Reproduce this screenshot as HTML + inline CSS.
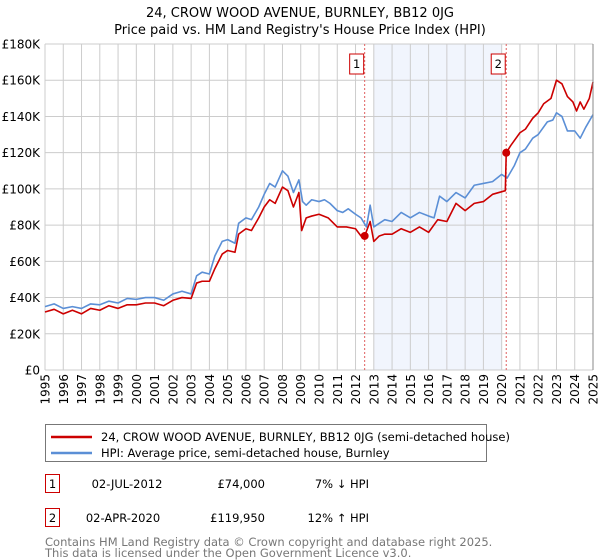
<!DOCTYPE html>
<html><head><meta charset="utf-8"><style>
body{margin:0;background:#fff;font-family:"Liberation Sans","DejaVu Sans",sans-serif;}
svg{display:block}
</style></head><body>
<svg id="c" width="600" height="560" xmlns="http://www.w3.org/2000/svg" font-family="DejaVu Sans, Liberation Sans, sans-serif">
<text x="300" y="17" text-anchor="middle" font-size="13">24, CROW WOOD AVENUE, BURNLEY, BB12 0JG</text>
<text x="300" y="34" text-anchor="middle" font-size="13">Price paid vs. HM Land Registry's House Price Index (HPI)</text>
<g id="plot"></g>
<g>
<rect x="45.5" y="424.5" width="441" height="37" fill="#fff" stroke="#777"/>
<line x1="51" y1="437" x2="92" y2="437" stroke="#cc0000" stroke-width="2.5"/>
<text x="101" y="441" font-size="11.5">24, CROW WOOD AVENUE, BURNLEY, BB12 0JG (semi-detached house)</text>
<line x1="51" y1="453" x2="92" y2="453" stroke="#5b8fd6" stroke-width="2.5"/>
<text x="101" y="457" font-size="11.5">HPI: Average price, semi-detached house, Burnley</text>
</g>
<g font-size="11.5">
<rect x="45.5" y="474.5" width="14" height="18" fill="#fff" stroke="#cc0000"/>
<text x="52.5" y="488" text-anchor="middle">1</text>
<text x="127" y="488" text-anchor="middle">02-JUL-2012</text>
<text x="265" y="488" text-anchor="end">£74,000</text>
<text x="369" y="488" text-anchor="end">7% ↓ HPI</text>
<rect x="45.5" y="508.5" width="14" height="18" fill="#fff" stroke="#cc0000"/>
<text x="52.5" y="522" text-anchor="middle">2</text>
<text x="123" y="522" text-anchor="middle">02-APR-2020</text>
<text x="265" y="522" text-anchor="end">£119,950</text>
<text x="369" y="522" text-anchor="end">12% ↑ HPI</text>
</g>
<text x="45" y="546" font-size="11.5" fill="#777">Contains HM Land Registry data © Crown copyright and database right 2025.</text>
<text x="45" y="557" font-size="11.5" fill="#777">This data is licensed under the Open Government Licence v3.0.</text>
</svg>
<script>
const yTicks=[0,20,40,60,80,100,120,140,160,180];
const yTickLabels=["£0","£20K","£40K","£60K","£80K","£100K","£120K","£140K","£160K","£180K"];
const years=[1995,1996,1997,1998,1999,2000,2001,2002,2003,2004,2005,2006,2007,2008,2009,2010,2011,2012,2013,2014,2015,2016,2017,2018,2019,2020,2021,2022,2023,2024,2025];
const hpiDates=[1995,1995.5,1996,1996.5,1997,1997.5,1998,1998.5,1999,1999.5,2000,2000.5,2001,2001.5,2002,2002.5,2003,2003.3,2003.6,2004,2004.3,2004.7,2005,2005.4,2005.6,2006,2006.3,2006.7,2007,2007.3,2007.6,2008,2008.3,2008.6,2008.9,2009.1,2009.3,2009.6,2010,2010.3,2010.6,2011,2011.3,2011.6,2012,2012.3,2012.6,2012.8,2013,2013.3,2013.6,2014,2014.5,2015,2015.5,2016,2016.3,2016.6,2017,2017.5,2018,2018.5,2019,2019.5,2020,2020.3,2020.7,2021,2021.3,2021.7,2022,2022.5,2022.8,2023,2023.3,2023.6,2024,2024.3,2024.6,2025];
const hpiValues=[35,36.5,34,35,34,36.5,36,38,37,39.5,39,40,40,38.5,42,43.5,42,52,54,53,63,71,72,70,81,84,83,90,97,103,101,110,107,98,105,93,91,94,93,94,92,88,87,89,86,84,79,91,79,81,83,82,87,84,87,85,84,96,93,98,95,102,103,104,108,106,113,120,122,128,130,137,138,142,140,132,132,128,134,141];
const priceDates=[1995,1995.5,1996,1996.5,1997,1997.5,1998,1998.5,1999,1999.5,2000,2000.5,2001,2001.5,2002,2002.5,2003,2003.3,2003.6,2004,2004.3,2004.7,2005,2005.4,2005.6,2006,2006.3,2006.7,2007,2007.3,2007.6,2008,2008.3,2008.6,2008.9,2009.05,2009.3,2009.6,2010,2010.5,2011,2011.5,2012,2012.3,2012.5,2012.8,2013,2013.3,2013.6,2014,2014.5,2015,2015.5,2016,2016.5,2017,2017.5,2018,2018.5,2019,2019.5,2020.2,2020.25,2020.5,2021,2021.3,2021.7,2022,2022.3,2022.7,2023,2023.3,2023.6,2023.9,2024.1,2024.3,2024.5,2024.8,2025];
const priceValues=[32,33.5,31,33,31,34,33,35.5,34,36,36,37,37,35.5,38.5,40,39.5,48,49,49,56,64,66,65,75,78,77,84,90,94,92,101,99,90,98,77,84,85,86,84,79,79,78,74,74,82,71,74,75,75,78,76,79,76,83,82,92,88,92,93,97,99,119.95,124,131,133,139,142,147,150,160,158,151,148,143,148,144,150,159];
const saleDates=[2012.5,2020.25];
const saleValues=[74,119.95];
const saleLabels=["1","2"];
const x0=45,x1=593,yTop=44,yBot=370;
const xs=d=>x0+(d-1995)/(2025-1995)*(x1-x0);
const ys=v=>yBot-v/180*(yBot-yTop);
const NS="http://www.w3.org/2000/svg";
const g=document.getElementById('plot');
function mk(t,a){const e=document.createElementNS(NS,t);for(const k in a)e.setAttribute(k,a[k]);g.appendChild(e);return e;}
let r=mk('rect',{x:x0,y:yTop,width:x1-x0,height:yBot-yTop,fill:'#fff'});


let sh=mk('rect',{x:xs(2013),y:yTop,width:xs(2020)-xs(2013),height:yBot-yTop,fill:'#eef3fc',opacity:0.8});


yTicks.forEach((v,i)=>{
 let l=mk('line',{x1:x0,x2:x1,y1:ys(v),y2:ys(v),stroke:'#ccc','stroke-width':1});
 
 
 let t=mk('text',{x:x0-5,y:ys(v)+4.5,'text-anchor':'end','font-size':12});
 t.textContent=yTickLabels[i];
 
 
});
years.forEach(yr=>{
 let l=mk('line',{x1:xs(yr),x2:xs(yr),y1:yTop,y2:yBot,stroke:'#ccc','stroke-width':1});
 
 
 let t=mk('text',{x:0,y:0,'text-anchor':'end','font-size':12,transform:`translate(${xs(yr)+4.5},374) rotate(-90)`});
 t.textContent=yr;
 
 
});
saleDates.forEach((d,i)=>{
 let l=mk('line',{x1:xs(d),x2:xs(d),y1:yTop,y2:yBot,stroke:'#e06060','stroke-width':1,'stroke-dasharray':'2,2'});
 
 
 let b=mk('rect',{x:xs(d)-15,y:54,width:14,height:20,fill:'#fff',stroke:'#cc0000'});
 
 
 let t=mk('text',{x:xs(d)-8,y:68,'text-anchor':'middle','font-size':11.5});
 t.textContent=saleLabels[i];
 
 
});
let hp=mk('polyline',{points:hpiDates.map((d,i)=>xs(d)+','+ys(hpiValues[i])).join(' '),fill:'none',stroke:'#5b8fd6','stroke-width':1.6,'stroke-linejoin':'round'});


let pp=mk('polyline',{points:priceDates.map((d,i)=>xs(d)+','+ys(priceValues[i])).join(' '),fill:'none',stroke:'#cc0000','stroke-width':1.6,'stroke-linejoin':'round'});


saleDates.forEach((d,i)=>{
 let c=mk('circle',{cx:xs(d),cy:ys(saleValues[i]),r:4,fill:'#cc0000'});
 
 
});
let ax=mk('line',{x1:x1,x2:x1,y1:yTop,y2:yBot,stroke:'#888','stroke-width':1});


</script>
</body></html>
